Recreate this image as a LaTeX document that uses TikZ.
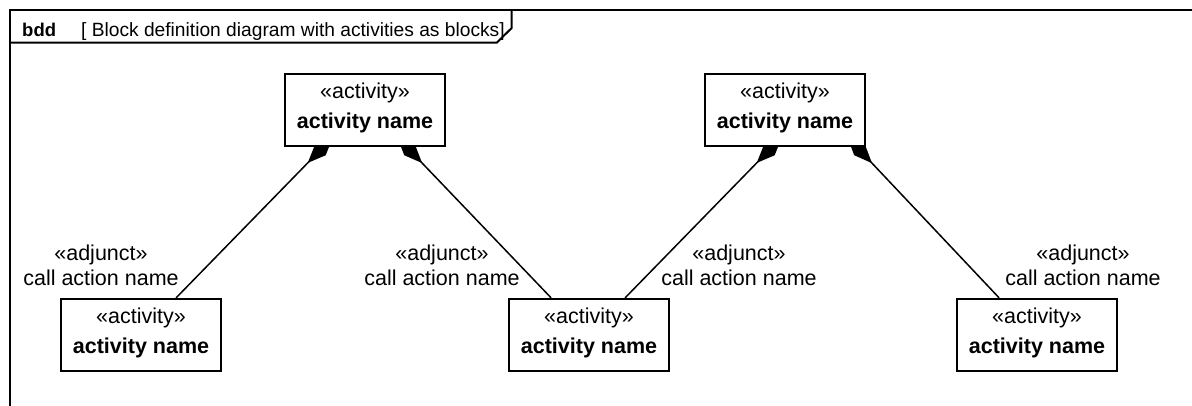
\documentclass[tikz,border=0pt]{standalone}
\usepackage{fontspec}
\setmainfont{Liberation Sans}
\usetikzlibrary{arrows.meta,calc,backgrounds}
\begin{document}
\begin{tikzpicture}[x=1pt,y=-1pt,
  blk/.style={draw, line width=1.8pt, fill=white, minimum width=160pt, minimum height=72.5pt,
    inner sep=0pt, align=center, font=\fontsize{21.5pt}{30pt}\selectfont},
  lbl/.style={align=center, inner sep=0pt, font=\fontsize{21.5pt}{25pt}\selectfont},
  comp/.style={line width=1.5pt, -{Diamond[length=36pt,width=15pt]}, shorten >=-14pt},
  frm/.style={line width=2pt}]
\useasboundingbox (0,0) rectangle (1192,405);
% frame
\draw[frm] (1193,10) -- (9.5,10) -- (9.5,406);
\draw[frm] (9.5,42.7) -- (496.7,42.7) -- (511.7,28) -- (511.7,10);
\node[anchor=base west, inner sep=0pt, font=\fontsize{19.2pt}{22pt}\selectfont] (title) at (22,36.5)
  {\textbf{\fontsize{18.5pt}{20pt}\selectfont bdd}\hspace{25pt}[ Block definition diagram with activities as blocks]};
% blocks
\node[blk] (t1) at (365,110) {\rule{0pt}{16pt}«activity»\\\textbf{activity name}\rule[-10pt]{0pt}{10pt}};
\node[blk] (t2) at (785,110) {\rule{0pt}{16pt}«activity»\\\textbf{activity name}\rule[-10pt]{0pt}{10pt}};
\node[blk] (b1) at (141,335) {\rule{0pt}{16pt}«activity»\\\textbf{activity name}\rule[-10pt]{0pt}{10pt}};
\node[blk] (b2) at (589,335) {\rule{0pt}{16pt}«activity»\\\textbf{activity name}\rule[-10pt]{0pt}{10pt}};
\node[blk] (b3) at (1037,335) {\rule{0pt}{16pt}«activity»\\\textbf{activity name}\rule[-10pt]{0pt}{10pt}};
% labels
\node[lbl] (a1) at (101,267.5) {\rule{0pt}{16pt}«adjunct»\\call action name\rule[-6pt]{0pt}{6pt}};
\node[lbl] (a2) at (442,267.5) {\rule{0pt}{16pt}«adjunct»\\call action name\rule[-6pt]{0pt}{6pt}};
\node[lbl] (a3) at (739,267.5) {\rule{0pt}{16pt}«adjunct»\\call action name\rule[-6pt]{0pt}{6pt}};
\node[lbl] (a4) at (1083,267.5) {\rule{0pt}{16pt}«adjunct»\\call action name\rule[-6pt]{0pt}{6pt}};
% connectors
\begin{scope}[on background layer]
\draw[comp] ($(b1.north west)+(116,0)$) -- ($(t1.south west)+(39,0)$);
\draw[comp] ($(b2.north west)+(43,0)$) -- ($(t1.south east)+(-39,0)$);
\draw[comp] ($(b2.north west)+(117,0)$) -- ($(t2.south west)+(68,0)$);
\draw[comp] ($(b3.north west)+(43,0)$) -- ($(t2.south east)+(-9,0)$);
\end{scope}
\end{tikzpicture}
\end{document}
